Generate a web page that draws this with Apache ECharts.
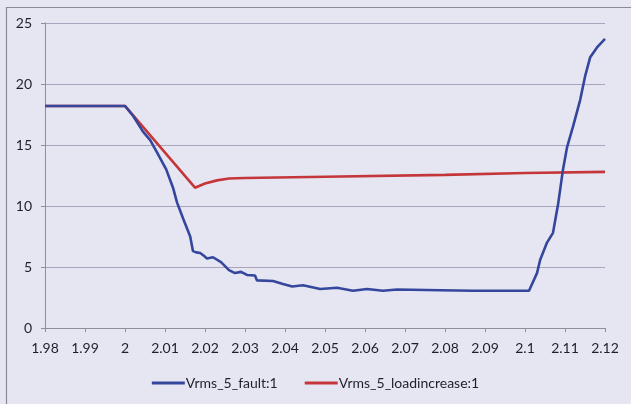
<!DOCTYPE html>
<html>
<head>
<meta charset="utf-8">
<script src="https://cdn.jsdelivr.net/npm/echarts@6/dist/echarts.min.js"></script>
<style>
html,body{margin:0;padding:0;background:#e5e6f2;}
#c{width:631px;height:404px;}
</style>
</head>
<body>
<div id="c"></div>
<script>
var faultX = [1.98, 2.0, 2.002, 2.0045, 2.0063, 2.008, 2.0103, 2.012, 2.013, 2.0145, 2.0163, 2.017, 2.0178, 2.0188, 2.0198, 2.0205, 2.022, 2.024, 2.026, 2.0275, 2.029, 2.0305, 2.0325, 2.033, 2.037, 2.0395, 2.0418, 2.0445, 2.0488, 2.053, 2.057, 2.0605, 2.0645, 2.068, 2.0788, 2.087, 2.098, 2.101, 2.103, 2.1038, 2.1055, 2.107, 2.1083, 2.1095, 2.1105, 2.112, 2.1138, 2.115, 2.1163, 2.118, 2.12];
var faultY = [18.2, 18.2, 17.4, 16.1, 15.4, 14.4, 13.0, 11.5, 10.3, 9.0, 7.5, 6.3, 6.2, 6.15, 5.9, 5.7, 5.8, 5.4, 4.75, 4.5, 4.6, 4.35, 4.3, 3.9, 3.85, 3.6, 3.4, 3.5, 3.2, 3.3, 3.05, 3.2, 3.05, 3.15, 3.1, 3.05, 3.05, 3.05, 4.5, 5.6, 7.0, 7.8, 10.2, 13.0, 14.8, 16.5, 18.7, 20.6, 22.2, 23.0, 23.7];
var loadX = [1.98, 2.0, 2.0175, 2.02, 2.023, 2.026, 2.03, 2.05, 2.08, 2.1, 2.12];
var loadY = [18.2, 18.2, 11.5, 11.85, 12.1, 12.25, 12.3, 12.4, 12.55, 12.7, 12.8];
var seriesNames = ['Vrms_5_fault:1', 'Vrms_5_loadincrease:1'];
var xMin = 1.98, xMax = 2.12, xStep = 0.01;
var yMin = 0, yMax = 25, yStep = 5;

function pairs(xs, ys) { return xs.map(function (x, i) { return [x, ys[i]]; }); }

var chart = echarts.init(document.getElementById('c'), null, {renderer: 'canvas'});
var txt = '#1f1f2c';
chart.setOption({
  backgroundColor: '#e5e6f2',
  animation: false,
  textStyle: {fontFamily: 'Lato'},
  graphic: [{
    type: 'rect', left: 4, top: 5, shape: {width: 700, height: 500},
    style: {fill: 'none', stroke: '#8a8a96', lineWidth: 1.2}, silent: true, z: -1
  }],
  grid: {left: 45, right: 26, top: 23, bottom: 76, containLabel: false},
  legend: {
    data: seriesNames, bottom: 9, left: 'center',
    icon: 'rect', itemWidth: 33, itemHeight: 3, itemGap: 27,
    textStyle: {fontSize: 14, color: txt, fontFamily: 'Lato', padding: [0, 0, 0, -4]}
  },
  xAxis: {
    type: 'value', min: xMin, max: xMax, interval: xStep,
    axisLine: {show: true, onZero: false, lineStyle: {color: '#8e8e9a', width: 1}},
    axisTick: {show: true, length: 4, lineStyle: {color: '#8e8e9a'}},
    splitLine: {show: false},
    axisLabel: {fontSize: 14, color: txt, margin: 13, fontFamily: 'Lato',
      formatter: function (v) { return String(+v.toFixed(2)); }}
  },
  yAxis: {
    type: 'value', min: yMin, max: yMax, interval: yStep,
    axisLine: {show: true, lineStyle: {color: '#8e8e9a', width: 1}},
    axisTick: {show: true, length: 4, lineStyle: {color: '#8e8e9a'}},
    splitLine: {show: true, lineStyle: {color: '#aaa4bc', width: 1}},
    axisLabel: {fontSize: 14, color: txt, margin: 13, fontFamily: 'Lato'}
  },
  series: [
    {name: seriesNames[0], type: 'line', data: pairs(faultX, faultY), showSymbol: false,
     lineStyle: {color: '#34479c', width: 2.6}, itemStyle: {color: '#34479c'}, z: 3},
    {name: seriesNames[1], type: 'line', data: pairs(loadX, loadY), showSymbol: false,
     lineStyle: {color: '#c5363b', width: 2.6}, itemStyle: {color: '#c5363b'}, z: 2}
  ]
});
</script>
</body>
</html>
